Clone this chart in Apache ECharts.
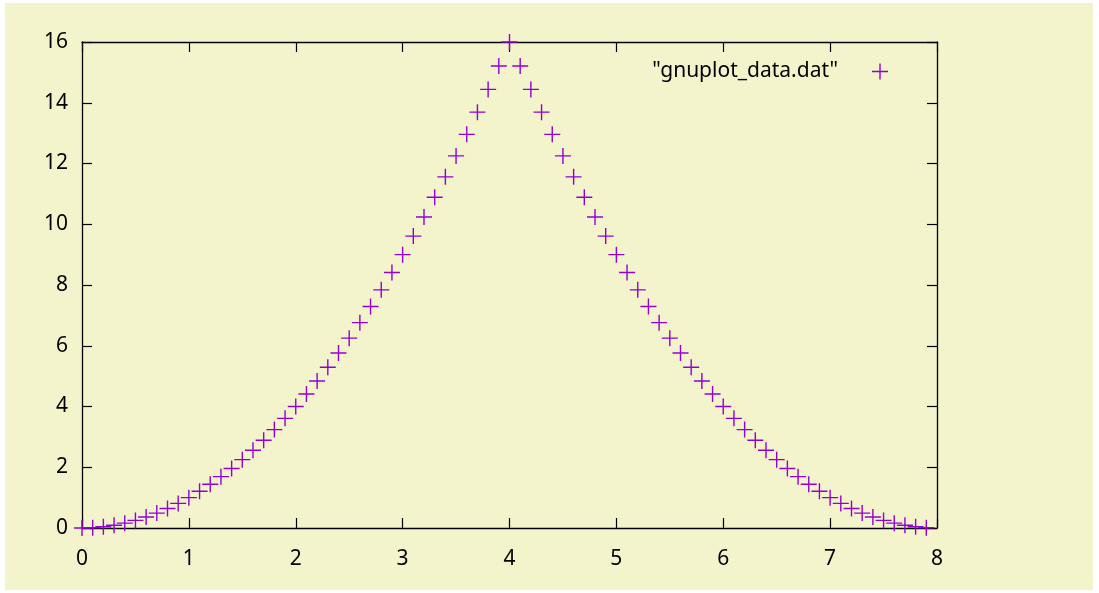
<!DOCTYPE html>
<html><head><meta charset="utf-8">
<script src="https://cdn.jsdelivr.net/npm/echarts@6/dist/echarts.min.js"></script>
<style>html,body{margin:0;padding:0;background:#fff;width:1099px;height:593px;overflow:hidden}
#c{position:absolute;left:5px;top:3px;width:1088px;height:587px}</style>
</head><body><div id="c"></div>
<script>
const seriesName = '"gnuplot_data.dat"';
const xValues = [0,0.1,0.2,0.3,0.4,0.5,0.6,0.7,0.8,0.9,1,1.1,1.2,1.3,1.4,1.5,1.6,1.7,1.8,1.9,2,2.1,2.2,2.3,2.4,2.5,2.6,2.7,2.8,2.9,3,3.1,3.2,3.3,3.4,3.5,3.6,3.7,3.8,3.9,4,4.1,4.2,4.3,4.4,4.5,4.6,4.7,4.8,4.9,5,5.1,5.2,5.3,5.4,5.5,5.6,5.7,5.8,5.9,6,6.1,6.2,6.3,6.4,6.5,6.6,6.7,6.8,6.9,7,7.1,7.2,7.3,7.4,7.5,7.6,7.7,7.8,7.9];
const yValues = [0,0.01,0.04,0.09,0.16,0.25,0.36,0.49,0.64,0.81,1,1.21,1.44,1.69,1.96,2.25,2.56,2.89,3.24,3.61,4,4.41,4.84,5.29,5.76,6.25,6.76,7.29,7.84,8.41,9,9.61,10.24,10.89,11.56,12.25,12.96,13.69,14.44,15.21,16,15.21,14.44,13.69,12.96,12.25,11.56,10.89,10.24,9.61,9,8.41,7.84,7.29,6.76,6.25,5.76,5.29,4.84,4.41,4,3.61,3.24,2.89,2.56,2.25,1.96,1.69,1.44,1.21,1,0.81,0.64,0.49,0.36,0.25,0.16,0.09,0.04,0.01];
const xTicks = [0,1,2,3,4,5,6,7,8];
const yTicks = [0,2,4,6,8,10,12,14,16];

const plus = 'path://M0,7.3H16V8.7H0Z M7.3,0H8.7V16H7.3Z';
const font = '"Noto Sans", "Open Sans", sans-serif';
const chart = echarts.init(document.getElementById('c'), null, {renderer:'canvas'});
const data = xValues.map((x,i)=>[x,yValues[i]]);
const axisCommon = {
  axisLine:{show:true,onZero:false,lineStyle:{color:'#000',width:1.3}},
  axisTick:{show:true,inside:true,length:10,lineStyle:{color:'#000',width:1.2}},
  splitLine:{show:false}
};
chart.setOption({
  backgroundColor:'#f4f4cc',
  animation:false,
  grid:{left:77,top:39,right:156,bottom:62,containLabel:false},
  legend:{
    show:true, right:200, top:53, align:'right', itemWidth:16, itemHeight:16,
    icon: plus,
    data:[{name:seriesName, itemStyle:{color:'#9400d3'}}],
    textStyle:{fontFamily:font,fontSize:21,color:'#000',padding:[0,29,0,0]}
  },
  xAxis:[
    Object.assign({type:'value',min:0,max:8,interval:1,position:'bottom',
      axisLabel:{show:true,margin:21,fontFamily:font,fontSize:21,color:'#000',
        formatter:v=>xTicks.includes(v)?String(v):''}},axisCommon),
    Object.assign({type:'value',min:0,max:8,interval:1,position:'top',
      axisLabel:{show:false}},axisCommon)
  ],
  yAxis:[
    Object.assign({type:'value',min:0,max:16,interval:2,position:'left',
      axisLabel:{show:true,margin:14,fontFamily:font,fontSize:21,color:'#000',
        formatter:v=>yTicks.includes(v)?String(v):''}},axisCommon),
    Object.assign({type:'value',min:0,max:16,interval:2,position:'right',
      axisLabel:{show:false}},axisCommon)
  ],
  series:[{
    name:seriesName,type:'scatter',xAxisIndex:0,yAxisIndex:0,
    data:data,symbol:plus,symbolSize:16,
    itemStyle:{color:'#9400d3',opacity:1},
    clip:false
  }]
});
</script></body></html>
